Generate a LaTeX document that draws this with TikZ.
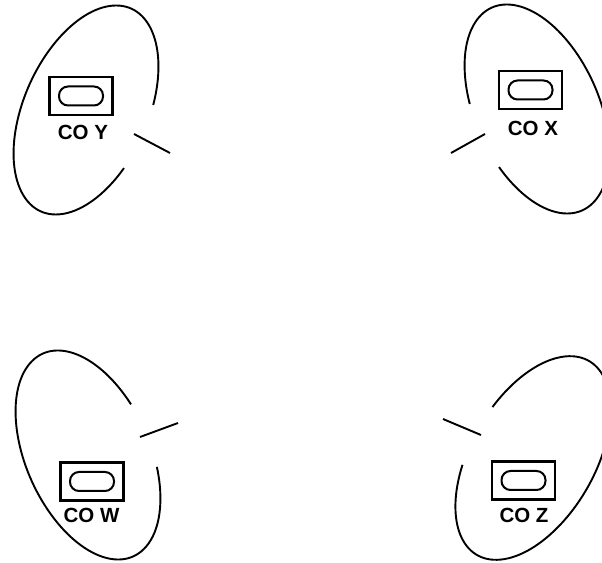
\documentclass[tikz,border=0pt]{standalone}
\usepackage{fontspec}
\setmainfont{Liberation Sans}
\begin{document}
\begin{tikzpicture}[x=1pt,y=1pt,
  loopline/.style={line width=1.9pt, black},
  pinline/.style={line width=1.9pt, black},
  plate/.style={draw, line width=2.2pt, minimum width=63pt, minimum height=38pt, inner sep=0pt},
  slot/.style={draw, line width=2pt, rounded corners=9pt, minimum width=44pt, minimum height=19pt, inner sep=0pt},
  tag/.style={font=\fontsize{20.5}{21}\selectfont\bfseries, inner sep=0pt}]
\useasboundingbox (0,0) rectangle (602,562);

% ---- CO Y (top left)
\begin{scope}[shift={(86,452)}, rotate=66]
\draw[loopline] (-73.3:111pt and 62pt) arc[start angle=-73.3, end angle=250.2, x radius=111pt, y radius=62pt];
\end{scope}
\node[plate] (boxY) at (81,466) {};
\node[slot] (slotY) at (boxY.center) {};
\node[tag] (tagY) at (83,430) {CO Y};
\coordinate (yA) at (134,428);
\coordinate (yB) at (170,409);
\draw[pinline] (yA) -- (yB);

% ---- CO X (top right)
\begin{scope}[shift={(537,453)}, rotate=114]
\draw[loopline] (109.8:111pt and 62pt) arc[start angle=109.8, end angle=433.3, x radius=111pt, y radius=62pt];
\end{scope}
\node[plate] (boxX) at (530.5,472) {};
\node[slot] (slotX) at (boxX.center) {};
\node[tag] (tagX) at (533,434) {CO X};
\coordinate (xA) at (485,428);
\coordinate (xB) at (451,409);
\draw[pinline] (xA) -- (xB);

% ---- CO W (bottom left)
\begin{scope}[shift={(88,107)}, rotate=-66]
\draw[loopline] (105:111pt and 62pt) arc[start angle=105, end angle=429.5, x radius=111pt, y radius=62pt];
\end{scope}
\node[plate] (boxW) at (92,80.5) {};
\node[slot] (slotW) at (boxW.center) {};
\node[tag] (tagW) at (91.5,47) {CO W};
\coordinate (wA) at (140,125);
\coordinate (wB) at (178,139);
\draw[pinline] (wA) -- (wB);

% ---- CO Z (bottom right)
\begin{scope}[shift={(533,104)}, rotate=60]
\draw[loopline] (111.6:112pt and 62pt) arc[start angle=111.6, end angle=437.7, x radius=112pt, y radius=62pt];
\end{scope}
\node[plate] (boxZ) at (523.5,81.5) {};
\node[slot] (slotZ) at (boxZ.center) {};
\node[tag] (tagZ) at (524,47) {CO Z};
\coordinate (zA) at (443,143);
\coordinate (zB) at (481,127);
\draw[pinline] (zA) -- (zB);
\end{tikzpicture}
\end{document}
